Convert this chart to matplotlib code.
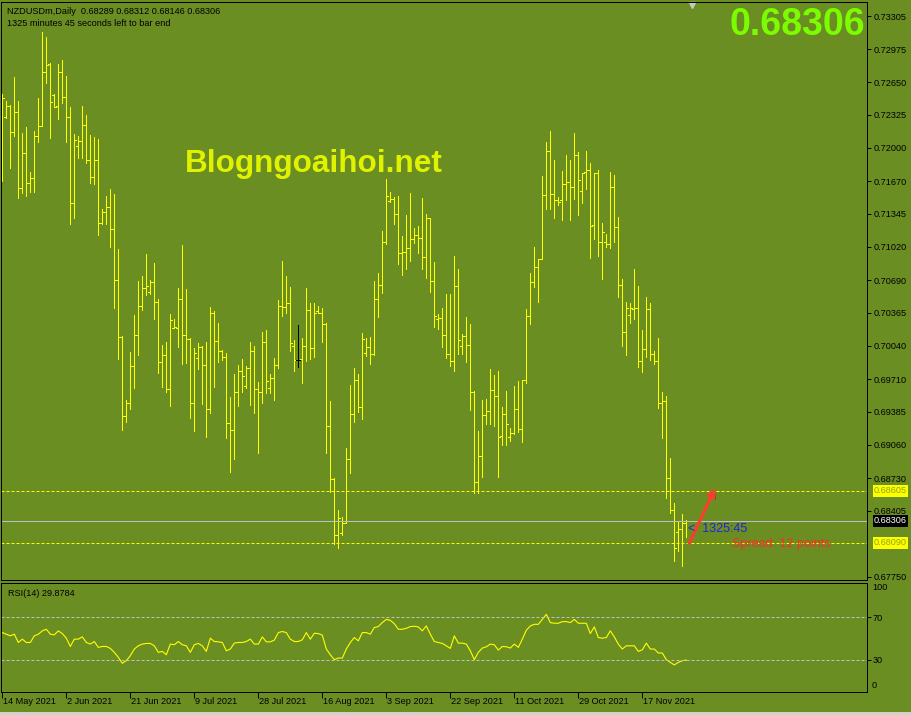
import matplotlib
matplotlib.use("Agg")
import matplotlib.pyplot as plt
from matplotlib.collections import LineCollection
from matplotlib.patches import Rectangle
from matplotlib import patheffects as pe

# ---- data (daily NZDUSD bars) ---------------------------------------------
opens = [
    0.7247, 0.7231, 0.7241, 0.7216, 0.7235, 0.7160, 0.7195, 0.7165, 0.7170, 0.7212,
    0.7222, 0.7275, 0.7283, 0.7252, 0.7241, 0.7275, 0.7250, 0.7231, 0.7145, 0.7202,
    0.7207, 0.7223, 0.7188, 0.7171, 0.7188, 0.7126, 0.7136, 0.7141, 0.7120, 0.7069,
    0.7013, 0.6934, 0.6947, 0.6984, 0.7015, 0.7043, 0.7061, 0.7057, 0.7067, 0.7047,
    0.6988, 0.6995, 0.6961, 0.7022, 0.7022, 0.7050, 0.7015, 0.7011, 0.6947, 0.6992,
    0.7003, 0.6985, 0.6941, 0.7036, 0.7009, 0.6999, 0.6993, 0.6927, 0.6921, 0.6958,
    0.6979, 0.6964, 0.6982, 0.6999, 0.6961, 0.6958, 0.7008, 0.6962, 0.6972, 0.6985,
    0.7043, 0.7042, 0.7046, 0.7004, 0.6990, 0.6991, 0.7004, 0.7039, 0.7002, 0.7038,
    0.7036, 0.7026, 0.6925, 0.6872, 0.6817, 0.6819, 0.6828, 0.6892, 0.6936, 0.6970,
    0.6943, 0.6997, 0.7003, 0.6996, 0.7050, 0.7064, 0.7107, 0.7147, 0.7149, 0.7134,
    0.7096, 0.7097, 0.7101, 0.7110, 0.7114, 0.7111, 0.7092, 0.7130, 0.7068, 0.7030,
    0.7031, 0.7015, 0.6996, 0.6989, 0.7063, 0.7004, 0.7014, 0.7005, 0.6958, 0.6869,
    0.6895, 0.6935, 0.6939, 0.6960, 0.6954, 0.6915, 0.6936, 0.6914, 0.6918, 0.6941,
    0.6922, 0.6970, 0.7033, 0.7067, 0.7082, 0.7090, 0.7153, 0.7197, 0.7154, 0.7148,
    0.7148, 0.7164, 0.7166, 0.7161, 0.7193, 0.7157, 0.7176, 0.7178, 0.7124, 0.7175,
    0.7107, 0.7107, 0.7105, 0.7161, 0.7122, 0.7064, 0.7018, 0.7034, 0.7040, 0.7041,
    0.6989, 0.7001, 0.7040, 0.6996, 0.6989, 0.6947, 0.6949, 0.6873, 0.6841, 0.6820,
    0.6823, 0.68289,
]
highs = [
    0.7253, 0.7246, 0.7242, 0.7270, 0.7246, 0.7215, 0.7221, 0.7176, 0.7217, 0.7249,
    0.7315, 0.7310, 0.7284, 0.7253, 0.7283, 0.7287, 0.7271, 0.7240, 0.7214, 0.7212,
    0.7241, 0.7232, 0.7213, 0.7211, 0.7209, 0.7139, 0.7152, 0.7159, 0.7154, 0.7100,
    0.7014, 0.6950, 0.6998, 0.7034, 0.7068, 0.7073, 0.7095, 0.7069, 0.7086, 0.7050,
    0.7005, 0.7008, 0.7035, 0.7030, 0.7061, 0.7104, 0.7060, 0.7012, 0.7002, 0.7007,
    0.7004, 0.7008, 0.7042, 0.7038, 0.7027, 0.7000, 0.6997, 0.6953, 0.6976, 0.6985,
    0.6991, 0.6984, 0.7008, 0.7004, 0.6968, 0.7018, 0.7020, 0.6976, 0.6992, 0.7049,
    0.7088, 0.7073, 0.7062, 0.7010, 0.7025, 0.7012, 0.7061, 0.7046, 0.7046, 0.7043,
    0.7041, 0.7027, 0.6949, 0.6873, 0.6841, 0.6834, 0.6903, 0.6965, 0.6982, 0.6976,
    0.7017, 0.7012, 0.7013, 0.7068, 0.7076, 0.7118, 0.7169, 0.7156, 0.7151, 0.7152,
    0.7113, 0.7133, 0.7155, 0.7121, 0.7123, 0.7150, 0.7134, 0.7130, 0.7087, 0.7035,
    0.7041, 0.7055, 0.7055, 0.7093, 0.7080, 0.7016, 0.7032, 0.7026, 0.6959, 0.6920,
    0.6950, 0.6951, 0.6981, 0.6975, 0.6979, 0.6943, 0.6959, 0.6923, 0.6964, 0.6969,
    0.6970, 0.7040, 0.7076, 0.7102, 0.7090, 0.7172, 0.7206, 0.7217, 0.7188, 0.7151,
    0.7177, 0.7193, 0.7188, 0.7215, 0.7196, 0.7175, 0.7197, 0.7185, 0.7175, 0.7178,
    0.7126, 0.7115, 0.7176, 0.7173, 0.7131, 0.7070, 0.7047, 0.7046, 0.7080, 0.7063,
    0.7020, 0.7052, 0.7046, 0.6999, 0.7012, 0.6958, 0.6954, 0.6893, 0.6848, 0.6829,
    0.6837, 0.68312,
]
lows = [
    0.7167, 0.7230, 0.7180, 0.7212, 0.7150, 0.7155, 0.7152, 0.7156, 0.7156, 0.7206,
    0.7222, 0.7264, 0.7210, 0.7240, 0.7229, 0.7244, 0.7206, 0.7125, 0.7130, 0.7190,
    0.7190, 0.7185, 0.7165, 0.7164, 0.7114, 0.7125, 0.7125, 0.7102, 0.7041, 0.6991,
    0.6921, 0.6928, 0.6941, 0.6962, 0.6995, 0.7039, 0.7054, 0.7055, 0.7030, 0.6977,
    0.6963, 0.6958, 0.6944, 0.7022, 0.7003, 0.6986, 0.6987, 0.6932, 0.6920, 0.6981,
    0.6946, 0.6914, 0.6937, 0.6963, 0.6988, 0.6990, 0.6913, 0.6879, 0.6892, 0.6944,
    0.6958, 0.6962, 0.6945, 0.6937, 0.6898, 0.6947, 0.6957, 0.6957, 0.6950, 0.6982,
    0.7033, 0.7036, 0.6999, 0.6979, 0.6983, 0.6967, 0.6989, 0.6991, 0.6993, 0.7036,
    0.7008, 0.6898, 0.6859, 0.6808, 0.6804, 0.6817, 0.6828, 0.6878, 0.6928, 0.6938,
    0.6931, 0.6994, 0.6986, 0.6995, 0.7032, 0.7056, 0.7105, 0.7146, 0.7125, 0.7085,
    0.7074, 0.7080, 0.7088, 0.7106, 0.7096, 0.7080, 0.7071, 0.7057, 0.7023, 0.7021,
    0.7003, 0.6992, 0.6984, 0.6979, 0.6996, 0.6996, 0.6988, 0.6940, 0.6858, 0.6858,
    0.6874, 0.6926, 0.6926, 0.6925, 0.6874, 0.6906, 0.6906, 0.6910, 0.6917, 0.6919,
    0.6909, 0.6967, 0.7026, 0.7062, 0.7047, 0.7090, 0.7139, 0.7139, 0.7130, 0.7143,
    0.7129, 0.7148, 0.7129, 0.7149, 0.7133, 0.7145, 0.7159, 0.7091, 0.7110, 0.7093,
    0.7070, 0.7102, 0.7101, 0.7107, 0.7052, 0.7004, 0.6995, 0.7027, 0.7030, 0.6983,
    0.6978, 0.6993, 0.6990, 0.6986, 0.6942, 0.6913, 0.6853, 0.6838, 0.6791, 0.6801,
    0.6786, 0.68146,
]
closes = [
    0.7249, 0.7241, 0.7216, 0.7235, 0.7160, 0.7195, 0.7165, 0.7170, 0.7212, 0.7222,
    0.7275, 0.7282, 0.7245, 0.7240, 0.7275, 0.7250, 0.7231, 0.7145, 0.7208, 0.7207,
    0.7223, 0.7188, 0.7171, 0.7188, 0.7126, 0.7136, 0.7141, 0.7120, 0.7069, 0.7013,
    0.6934, 0.6947, 0.6984, 0.7015, 0.7043, 0.7061, 0.7063, 0.7067, 0.7047, 0.6988,
    0.6995, 0.6961, 0.7029, 0.7023, 0.7050, 0.7015, 0.7011, 0.6947, 0.6997, 0.7003,
    0.6985, 0.6941, 0.7036, 0.7009, 0.6999, 0.6993, 0.6927, 0.6921, 0.6958, 0.6979,
    0.6974, 0.6982, 0.6999, 0.6961, 0.6958, 0.7008, 0.6969, 0.6972, 0.6985, 0.7043,
    0.7042, 0.7046, 0.7007, 0.6990, 0.6990, 0.7004, 0.7039, 0.7002, 0.7036, 0.7036,
    0.7026, 0.6925, 0.6872, 0.6817, 0.6833, 0.6828, 0.6892, 0.6936, 0.6970, 0.6943,
    0.7011, 0.7003, 0.6996, 0.7050, 0.7064, 0.7107, 0.7152, 0.7149, 0.7134, 0.7096,
    0.7097, 0.7101, 0.7110, 0.7114, 0.7111, 0.7092, 0.7130, 0.7068, 0.7033, 0.7031,
    0.7015, 0.6996, 0.6989, 0.7063, 0.7010, 0.7014, 0.7005, 0.6958, 0.6869, 0.6895,
    0.6935, 0.6939, 0.6960, 0.6954, 0.6914, 0.6936, 0.6926, 0.6918, 0.6941, 0.6922,
    0.6970, 0.7033, 0.7067, 0.7082, 0.7090, 0.7153, 0.7197, 0.7154, 0.7148, 0.7146,
    0.7164, 0.7166, 0.7161, 0.7193, 0.7168, 0.7175, 0.7178, 0.7123, 0.7175, 0.7107,
    0.7117, 0.7105, 0.7161, 0.7122, 0.7064, 0.7018, 0.7041, 0.7041, 0.7041, 0.6989,
    0.7001, 0.7040, 0.6996, 0.6989, 0.6947, 0.6949, 0.6873, 0.6841, 0.6804, 0.6823,
    0.6828, 0.68306,
]
rsi = [
    55.5, 54.0, 52.5, 54.0, 46.3, 49.4, 46.3, 46.3, 52.5, 54.0,
    57.1, 58.6, 54.0, 53.4, 57.1, 54.6, 50.3, 42.6, 49.4, 49.4,
    51.5, 46.3, 44.8, 47.2, 41.7, 42.6, 42.6, 40.8, 37.1, 32.5,
    26.9, 29.4, 34.0, 40.2, 43.2, 44.8, 45.4, 45.4, 43.2, 37.1,
    38.0, 34.9, 44.8, 44.2, 47.2, 44.2, 43.2, 37.1, 44.2, 45.4,
    43.2, 38.0, 50.3, 47.2, 46.9, 46.3, 38.6, 40.2, 45.7, 46.3,
    46.3, 47.2, 49.4, 44.8, 44.8, 51.5, 46.9, 46.9, 48.5, 55.5,
    56.5, 55.5, 49.4, 47.2, 47.2, 48.8, 55.5, 49.4, 54.9, 54.6,
    53.1, 40.2, 34.9, 30.3, 31.8, 31.8, 40.2, 46.3, 50.9, 47.8,
    55.5, 55.5, 54.0, 60.2, 61.1, 64.8, 67.8, 66.9, 63.8, 58.6,
    58.6, 59.5, 61.1, 61.4, 60.8, 57.1, 61.7, 54.0, 47.2, 46.3,
    45.4, 43.2, 40.8, 52.5, 45.7, 45.7, 44.8, 38.6, 30.3, 37.1,
    41.1, 42.3, 44.8, 44.2, 39.2, 42.6, 42.3, 41.1, 44.8, 41.7,
    49.4, 57.7, 61.7, 63.2, 63.2, 67.8, 72.5, 64.8, 64.2, 64.2,
    65.7, 65.7, 64.8, 67.8, 64.2, 64.2, 64.2, 54.6, 60.8, 50.9,
    50.3, 50.9, 57.1, 51.5, 44.8, 40.2, 43.2, 43.2, 43.2, 38.0,
    39.5, 45.7, 40.2, 40.2, 36.5, 36.5, 30.3, 27.8, 25.4, 27.8,
    29.4, 29.88,
]
date_labels = ["14 May 2021", "2 Jun 2021", "21 Jun 2021", "9 Jul 2021", "28 Jul 2021",
               "16 Aug 2021", "3 Sep 2021", "22 Sep 2021", "11 Oct 2021", "29 Oct 2021",
               "17 Nov 2021"]
date_every = 16
price_ticks = [0.73305, 0.72975, 0.72650, 0.72325, 0.72000, 0.71670, 0.71345, 0.71020,
               0.70690, 0.70365, 0.70040, 0.69710, 0.69385, 0.69060, 0.68730, 0.68405,
               0.67750]
level_hi, level_lo, bid = 0.68605, 0.68090, 0.68306

# ---- look ------------------------------------------------------------------
W, H = 912, 715
BG = "#6b8e23"
BAR = "#ffff00"
FONT = "Liberation Sans"
FS = 6.6
PX = 0.72  # one pixel in points

plt.rcParams["font.family"] = [FONT, "DejaVu Sans"]

fig = plt.figure(figsize=(W / 100, H / 100), dpi=100, facecolor=BG)


def box(x0, y0, x1, y1):
    """pixel box (top-left origin) -> figure rect"""
    return [x0 / W, 1 - y1 / H, (x1 - x0) / W, (y1 - y0) / H]


ax = fig.add_axes(box(1, 2, 867, 580))
rax = fig.add_axes(box(1, 582.5, 867, 692.3), sharex=ax)

for a in (ax, rax):
    a.set_facecolor(BG)
    for s in a.spines.values():
        s.set_color("black")
        s.set_linewidth(PX)

n = len(closes)
ax.set_xlim(-0.33, 216.17)
ax.set_ylim(0.67720, 0.73444)

# ── OHLC bars ─────────────────────────────────────────────────────── #
segs, cols = [], []
for i in range(n):
    o, h, l, c = opens[i], highs[i], lows[i], closes[i]
    col = "black" if o == c else BAR
    segs += [[(i, l), (i, h)], [(i - 0.5, o), (i, o)], [(i, c), (i + 0.5, c)]]
    cols += [col] * 3
ax.add_collection(LineCollection(segs, colors=cols, linewidths=PX, antialiaseds=False))

# ── levels ────────────────────────────────────────────────────────── #
dash = (0, (3, 2))
ax.axhline(level_hi, color=BAR, lw=PX, linestyle=dash)
ax.axhline(level_lo, color=BAR, lw=PX, linestyle=dash)
ax.axhline(bid, color="#c0c0c0", lw=PX)

ax.yaxis.tick_right()
ax.set_yticks(price_ticks)
ax.set_yticklabels([f"{v:.5f}" for v in price_ticks])
ax.tick_params(axis="y", direction="out", length=3, width=PX, pad=2, labelsize=FS, colors="black")
ax.tick_params(axis="x", bottom=False, labelbottom=False)

yt = ax.get_yaxis_transform()
for val, face, txt in [(level_hi, BAR, "#8fa61a"), (level_lo, BAR, "#8fa61a"), (bid, "black", "white")]:
    ax.text(1.0 + 7 / 866, val, f"{val:.5f}", transform=yt, ha="left", va="center",
            fontsize=FS, color=txt, clip_on=False,
            bbox=dict(facecolor=face, edgecolor="none", boxstyle="square,pad=0.15"))

# ── annotations ───────────────────────────────────────────────────── #
ann = ax.annotate("", xy=(178.2, 0.6863), xytext=(171.7, 0.6808),
                  arrowprops=dict(arrowstyle="-|>", color="#ff3b30", lw=2.2,
                                  mutation_scale=11, shrinkA=0, shrinkB=0))
ann.arrow_patch.set_path_effects([pe.withSimplePatchShadow(offset=(1.5, -1.5),
                                                           shadow_rgbFace="#3f5a14", alpha=0.8)])
ax.text(171.3, 0.6823, "<  1325:45", color="#2222dd", fontsize=9, va="center", ha="left")
ax.text(182.3, 0.6808, "Spread: 12 points.", color="#ff2a2a", fontsize=9, va="center", ha="left")

ax.plot([(692 - 1) / 866], [0.994], marker="v", ms=5, color="#c8c8c8",
        transform=ax.transAxes, clip_on=False)

fig.text(7 / W, 1 - 11 / H, "NZDUSDm,Daily  0.68289 0.68312 0.68146 0.68306",
         fontsize=FS, va="center", ha="left", color="black")
fig.text(7 / W, 1 - 24 / H, "1325 minutes 45 seconds left to bar end",
         fontsize=FS, va="center", ha="left", color="black")
fig.text(865 / W, 1 - 25 / H, "0.68306", ha="right", va="center", fontsize=27,
         fontweight="bold", color="#7cfc00")
fig.text(185 / W, 1 - 164 / H, "Blogngoaihoi.net", ha="left", va="center", fontsize=22.7,
         fontweight="bold", color="#e1f200")

# ── RSI panel ─────────────────────────────────────────────────────── #
rax.plot(range(n), rsi, color=BAR, lw=0.8, antialiased=True)
rax.set_ylim(-0.05, 102.1)
rax.axhline(70, color="#c0c0c0", lw=PX, linestyle=dash)
rax.axhline(30, color="#c0c0c0", lw=PX, linestyle=dash)
rax.yaxis.tick_right()
rax.set_yticks([70, 30])
rax.set_yticklabels(["70", "30"])
rax.tick_params(axis="y", direction="out", length=3, width=PX, pad=1, labelsize=FS, colors="black")
ryt = rax.get_yaxis_transform()
rax.text(1.0 + 5 / 866, 97, "100", transform=ryt, fontsize=FS, va="center", ha="left")
rax.text(1.0 + 5 / 866, 6.7, "0", transform=ryt, fontsize=FS, va="center", ha="left")
rax.text(7 / 866, 0.9, "RSI(14) 29.8784", transform=rax.transAxes, fontsize=FS,
         va="center", ha="left", color="black")

xt = [k * date_every for k in range(len(date_labels))]
rax.set_xticks(xt)
rax.set_xticklabels([""] * len(xt))
rax.tick_params(axis="x", direction="out", length=4, width=PX, colors="black")
xtr = rax.get_xaxis_transform()
for pos, lab in zip(xt, date_labels):
    rax.text(pos + 0.2, -0.088, lab, transform=xtr, fontsize=FS, va="center", ha="left",
             clip_on=False)

fig.patches.append(Rectangle((0, 0), 1, 3 / H, transform=fig.transFigure,
                             facecolor="#d4d0c8", edgecolor="none"))

fig.savefig("out.png", dpi=100, facecolor=BG)
